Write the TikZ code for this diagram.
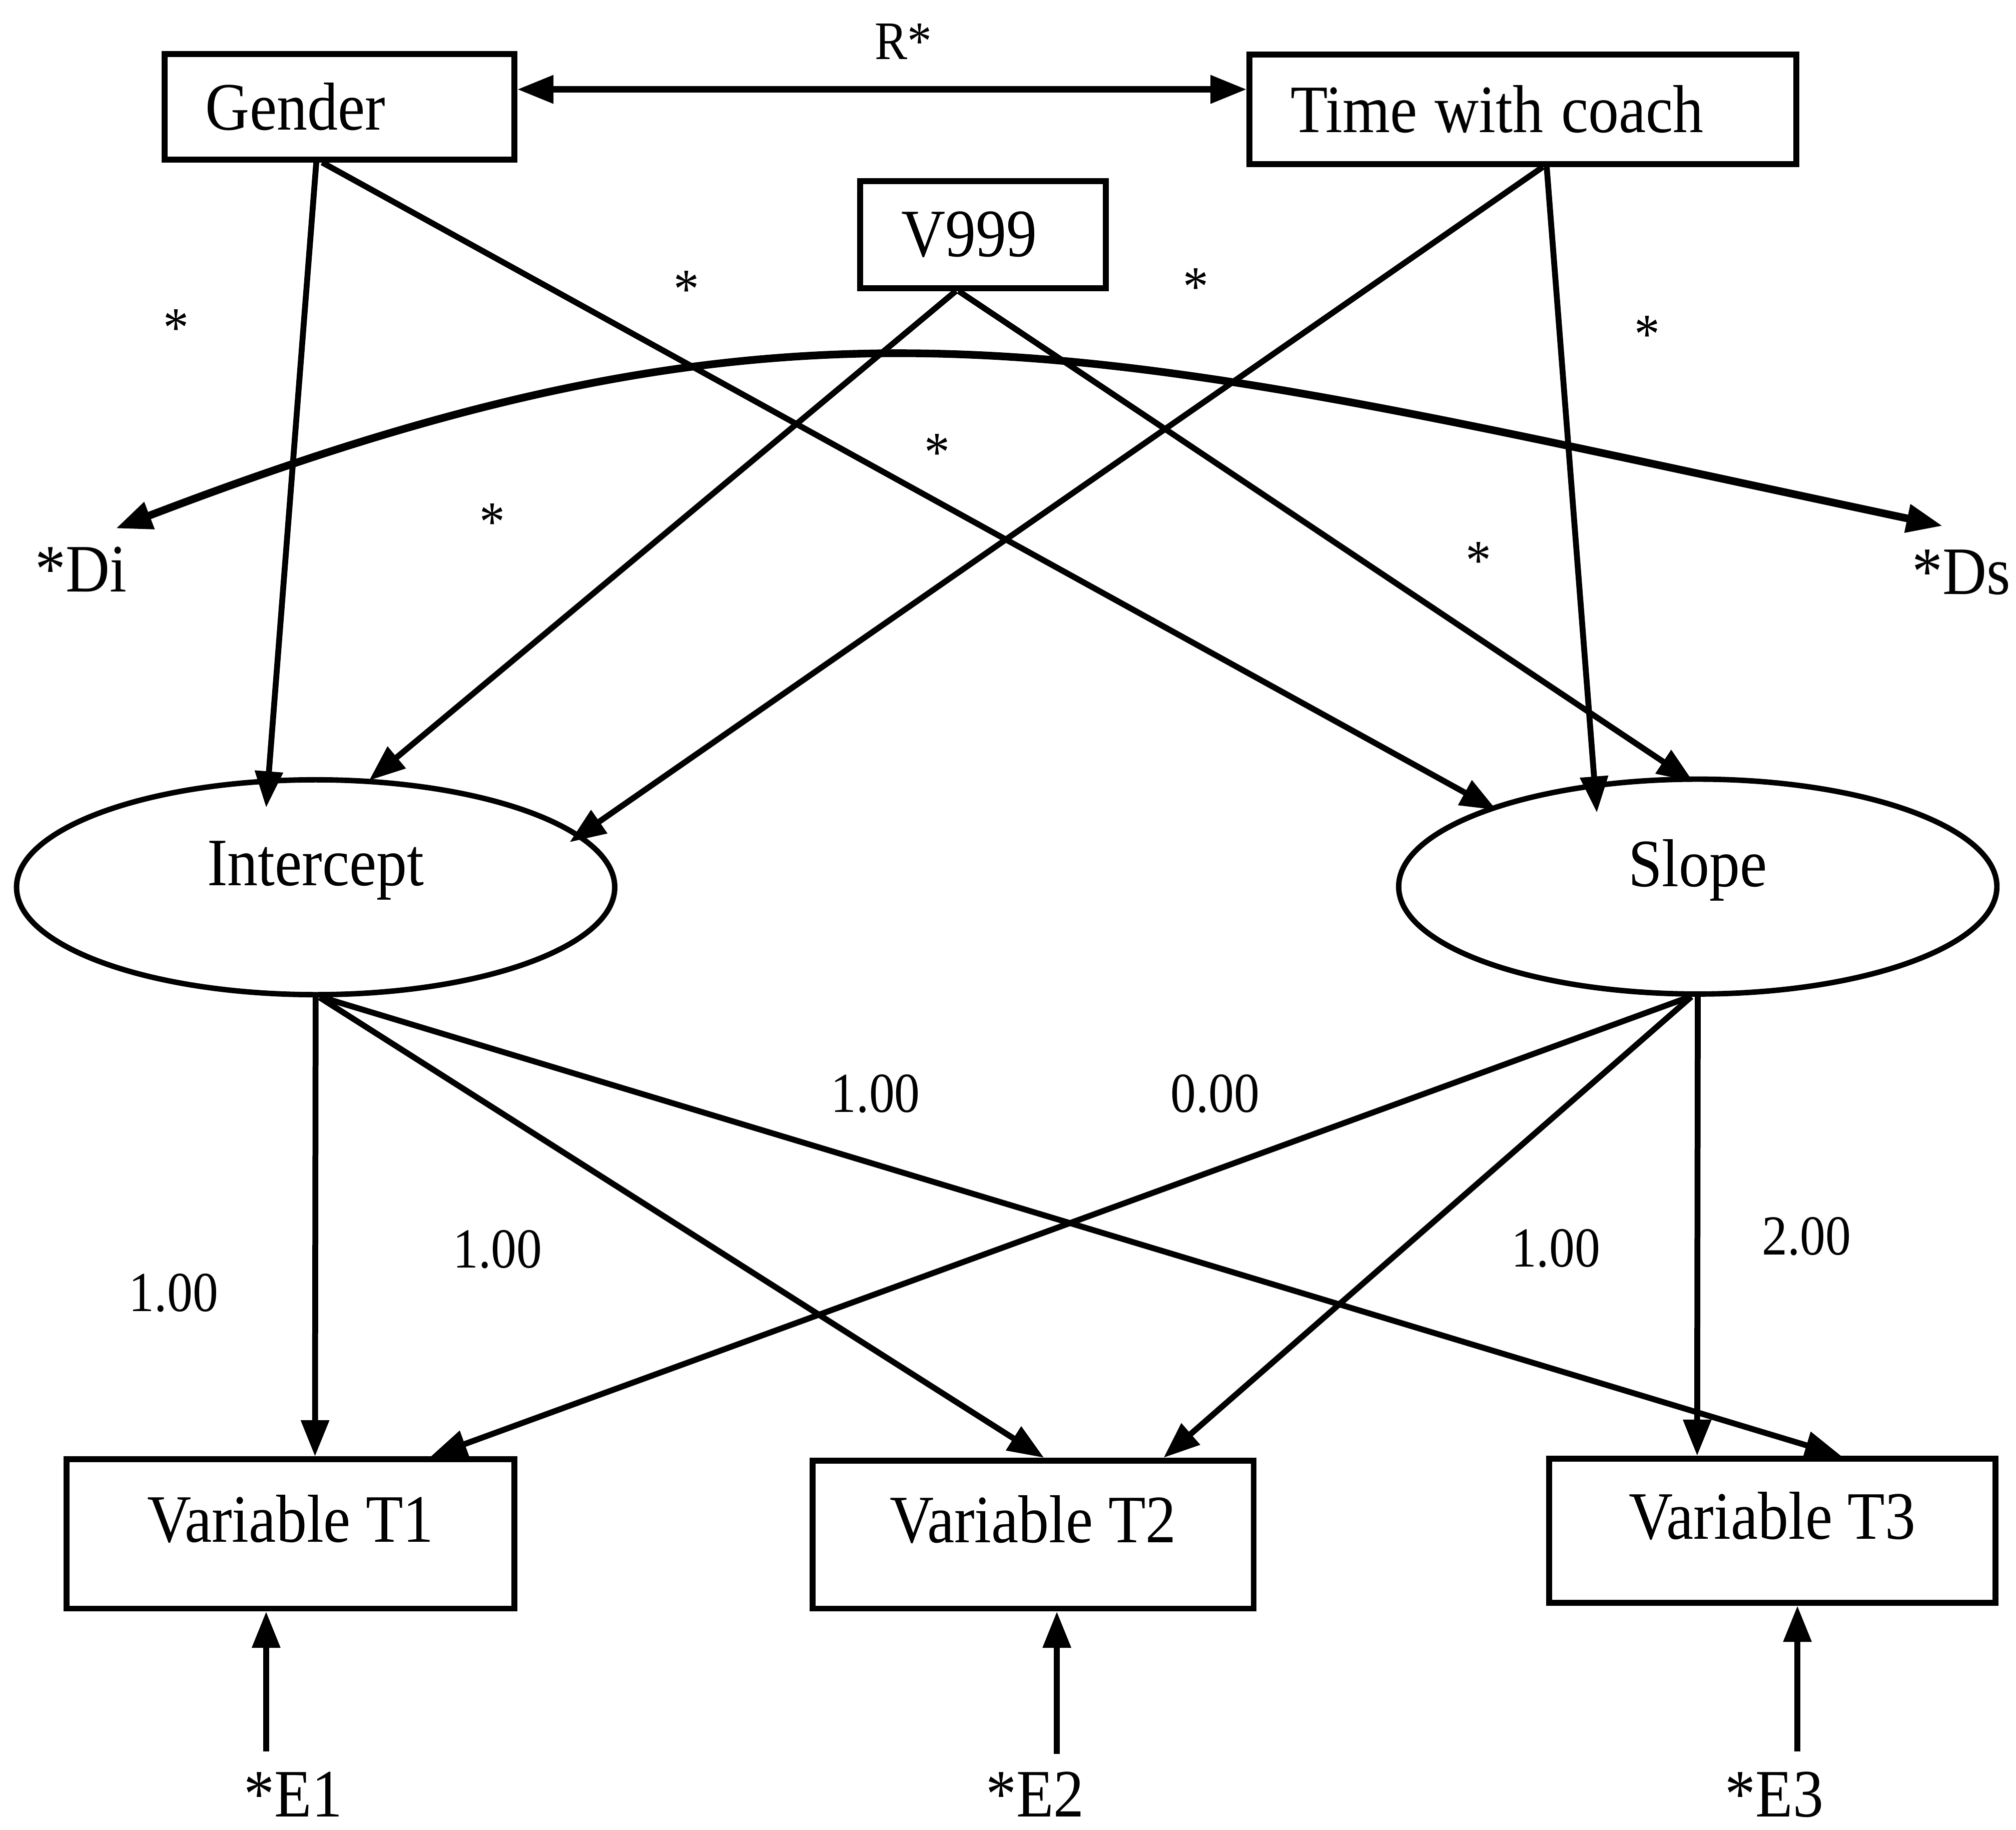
\documentclass[tikz,border=0pt]{standalone}
\usepackage{fontspec}
\setmainfont{Liberation Serif}[FakeStretch=0.9]
\usetikzlibrary{calc,arrows.meta,shapes.geometric}

\begin{document}
\begin{tikzpicture}[x=0.01cm,y=-0.01cm,
  lbl/.style={font=\fontsize{15}{18}\selectfont, inner sep=0pt},
  num/.style={font=\fontsize{12.5}{15}\selectfont, inner sep=0pt},
  topbox/.style={draw, line width=1.3pt, inner xsep=0.32cm, inner ysep=0pt,
    align=left, font=\fontsize{15}{18}\selectfont,
    execute at begin node={\spaceskip=0.26em\relax}},
  obsbox/.style={draw, line width=1.3pt, inner sep=0pt, text depth=0.24cm,
    font=\fontsize{15}{18}\selectfont},
  latent/.style={ellipse, draw, line width=1.2pt, inner sep=0pt,
    minimum width=4.65cm, minimum height=1.67cm, text depth=0.37cm,
    font=\fontsize{15}{18}\selectfont},
  tip/.tip={Triangle[length=8pt,width=6pt]},
  effect/.style={-tip, line width=1.3pt},
  covar/.style={tip-tip, line width=1.4pt},
  discov/.style={tip-tip, line width=1.7pt}]

\useasboundingbox (0,0) rectangle (1568,1423);

% predictors
\node[topbox, text width=2.08cm, minimum height=0.82cm] (gender) at (264,83) {Gender};
\node[topbox, text width=3.61cm, minimum height=0.85cm] (twc) at (1184.5,85) {Time with coach};
\node[topbox, text width=1.27cm, minimum height=0.83cm] (v999) at (764.5,182.5) {V999};

% latent growth factors
\node[latent] (icpt) at (245.5,690) {Intercept};
\node[latent] (slope) at (1320.5,689.5) {Slope};

% repeated measures
\node[obsbox, minimum width=3.48cm, minimum height=1.16cm] (t1) at (226,1193) {Variable T1};
\node[obsbox, minimum width=3.43cm, minimum height=1.15cm] (t2) at (803.5,1193.5) {Variable T2};
\node[obsbox, minimum width=3.47cm, minimum height=1.12cm] (t3) at (1378.5,1190.5) {Variable T3};

% disturbances and errors
\node[lbl, anchor=base] (dilab) at (63,460) {*Di};
\node[lbl, anchor=base] (dslab) at (1525.5,462) {*Ds};
\node[lbl, anchor=base] (e1lab) at (228,1413) {*E1};
\node[lbl, anchor=base] (e2lab) at (805,1413) {*E2};
\node[lbl, anchor=base] (e3lab) at (1380,1413) {*E3};
\coordinate (ditip) at (90,411);
\coordinate (dstip) at (1511,409);
\coordinate (e1s) at (207,1362);
\coordinate (e2s) at (822,1364);
\coordinate (e3s) at (1398,1362);

% covariance between predictors
\draw[covar] ($(gender.east)+(0,-13.5)$) -- ($(twc.west)+(0,-15.5)$);
\node[font=\fontsize{12}{14}\selectfont, inner sep=0pt, anchor=base] (rlab) at (702.5,46) {R*};

% covariance between disturbances
\draw[discov] (ditip) .. controls (643,199) and (851,269) .. (dstip);

% predictor effects
\draw[effect] ($(gender.south)+(-18,0)$) -- ($(icpt.center)+(-38.5,-62)$);
\draw[effect] ($(gender.south)+(-13.5,0)$) -- ($(slope.center)+(-156.5,-59.5)$);
\draw[effect] ($(twc.south)+(15.5,0)$) -- ($(icpt.center)+(197.5,-35)$);
\draw[effect] ($(twc.south)+(18.5,0)$) -- ($(slope.center)+(-78.5,-57.5)$);
\draw[effect] ($(v999.south)+(-21,0)$) -- ($(icpt.center)+(41.5,-83)$);
\draw[effect] ($(v999.south)+(-19,0)$) -- ($(slope.center)+(-3.5,-81.5)$);

% factor loadings
\draw[effect] (icpt.south) -- ($(t1.north)+(19,0)$);
\draw[effect] ($(icpt.south)+(3,0)$) -- ($(t2.north)+(8.5,0)$);
\draw[effect] ($(icpt.south)+(5,0)$) -- ($(t3.north)+(53.5,0)$);
\draw[effect] ($(slope.south)+(-6,0)$) -- ($(t1.north)+(109,0)$);
\draw[effect] ($(slope.south)+(-5,0)$) -- ($(t2.north)+(101.5,0)$);
\draw[effect] (slope.south) -- ($(t3.north)+(-58.5,0)$);

% error terms
\draw[effect] (e1s) -- ($(t1.south)+(-19,0)$);
\draw[effect] (e2s) -- ($(t2.south)+(18.5,0)$);
\draw[effect] (e3s) -- ($(t3.south)+(19.5,0)$);

% free parameters
\node[num] (p1) at (137,255) {*};
\node[num] (p2) at (534,225) {*};
\node[num] (p3) at (930,223) {*};
\node[num] (p4) at (1281,260) {*};
\node[num] (p5) at (383,406) {*};
\node[num] (p6) at (729,352) {*};
\node[num] (p7) at (1150,436) {*};

% fixed loadings
\node[num, anchor=base] (l1) at (681,865) {1.00};
\node[num, anchor=base] (l2) at (945,865) {0.00};
\node[num, anchor=base] (l3) at (387,986) {1.00};
\node[num, anchor=base] (l4) at (135,1020) {1.00};
\node[num, anchor=base] (l5) at (1210,985) {1.00};
\node[num, anchor=base] (l6) at (1405,976) {2.00};
\end{tikzpicture}
\end{document}
